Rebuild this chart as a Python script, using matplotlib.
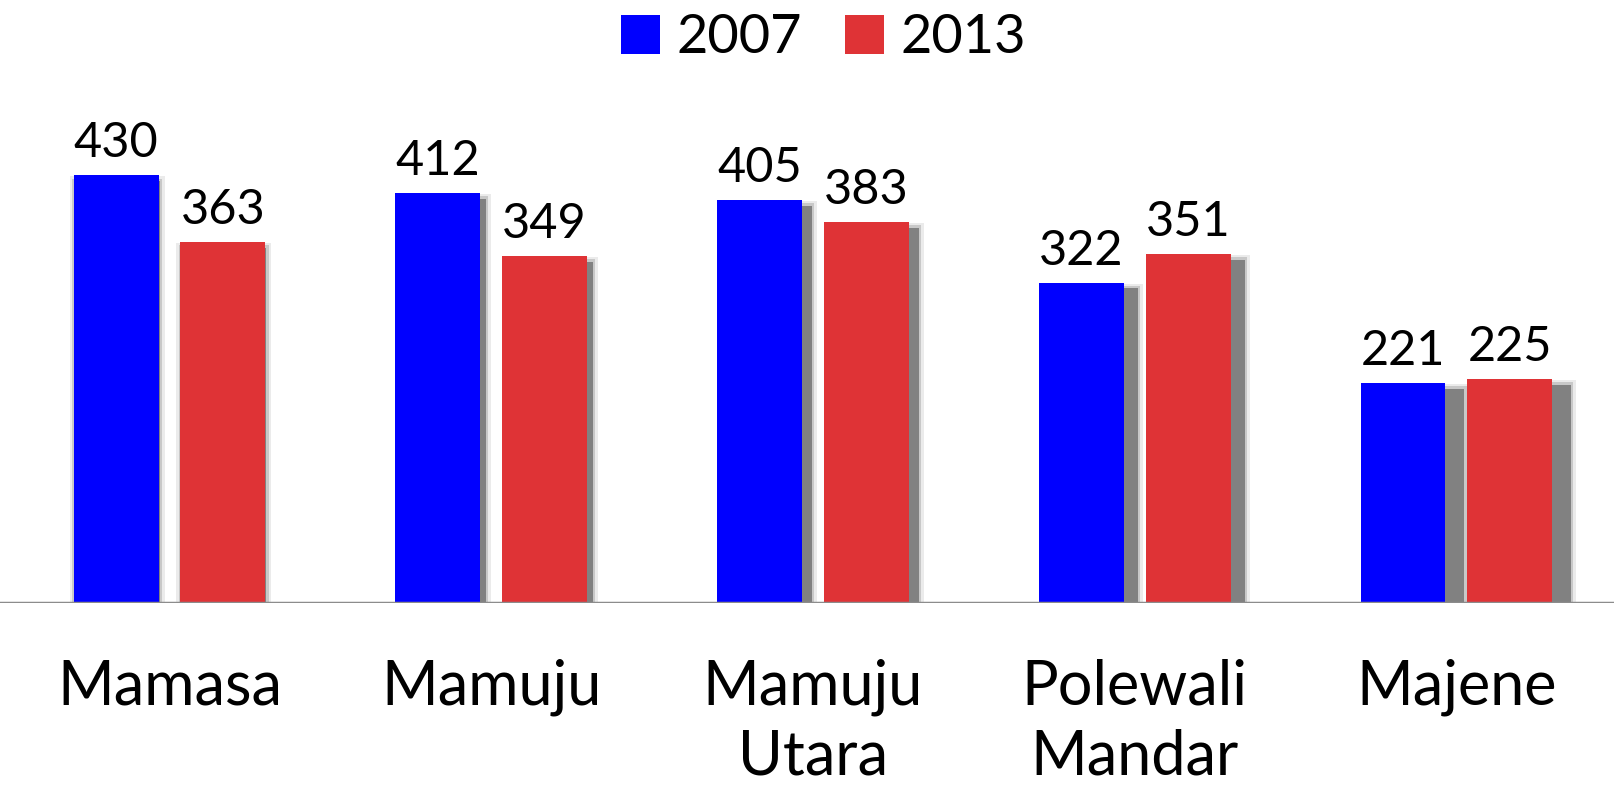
import numpy as np
import matplotlib.pyplot as plt

plt.rcParams['font.family'] = ['Lato', 'DejaVu Sans']

# data
regions = ['Mamasa', 'Mamuju', 'Mamuju\nUtara', 'Polewali\nMandar', 'Majene']
years = ['2007', '2013']
val_2007 = [430, 412, 405, 322, 221]
val_2013 = [363, 349, 383, 351, 225]

colors = ['#0000ff', '#df3336']

fig = plt.figure(figsize=(16.15, 7.88), dpi=100)
ax = fig.add_axes([0, 0.235, 1, 0.765])

x = np.arange(len(regions))
width = 0.264
offset = 0.166
px = 1 / 321.75  # one pixel in x data units

# drop shadows, growing to the right like the original
for series, sign in ((val_2007, -1), (val_2013, 1)):
    for i, v in enumerate(series):
        dx = (1 + 4.4 * i) * px
        xc = x[i] + sign * offset + dx
        for grow, a in ((10, 0.15), (5, 0.3), (0, 0.9)):
            ax.bar(xc, v - 6 + grow / 2, width=width + grow * px,
                   color='#7a7a7a', alpha=a, zorder=1, linewidth=0)

b1 = ax.bar(x - offset, val_2007, width=width, color=colors[0], zorder=3,
            label=years[0], linewidth=0)
b2 = ax.bar(x + offset, val_2013, width=width, color=colors[1], zorder=3,
            label=years[1], linewidth=0)

for bars, vals in ((b1, val_2007), (b2, val_2013)):
    for r, v in zip(bars, vals):
        ax.text(r.get_x() + r.get_width() / 2, v + 10, str(v),
                ha='center', va='bottom', fontsize=35, color='black')

ax.set_xlim(-0.527, 4.493)
ax.set_ylim(0, 606)
ax.axhline(0, color='#8c8c8c', lw=2.5, zorder=4)

ax.set_xticks(x)
ax.set_xticklabels(regions, fontsize=44, linespacing=1.28, va='top')
ax.tick_params(axis='x', length=0, pad=40)
ax.set_yticks([])
for s in ax.spines.values():
    s.set_visible(False)

fig.legend(handles=[b1, b2], labels=years, loc='upper center',
           bbox_to_anchor=(0.51, 1.045), ncol=2, frameon=False, fontsize=39,
           handlelength=0.72, handleheight=0.72, handletextpad=0.3,
           columnspacing=0.8)

fig.savefig('out.png', dpi=100)
